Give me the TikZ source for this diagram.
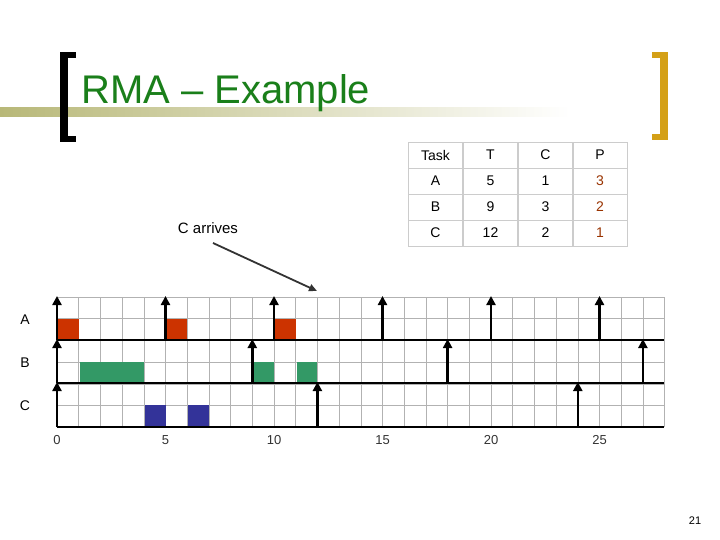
\documentclass[tikz,border=0pt]{standalone}
\usepackage{fontspec}
\setmainfont{Liberation Sans}
\usetikzlibrary{arrows.meta}
\definecolor{ttl}{HTML}{1A7F1A}
\definecolor{gold}{HTML}{D4A017}
\definecolor{olive}{HTML}{B8B878}
\definecolor{ared}{HTML}{CC3300}
\definecolor{bgreen}{HTML}{339966}
\definecolor{cblue}{HTML}{333399}
\definecolor{pbrown}{HTML}{993300}
\begin{document}
\begin{tikzpicture}[x=1pt,y=-1pt,
  rel/.style={line width=2.4pt,-{Triangle[length=9pt,width=9pt]}},
  lbl/.style={font=\fontsize{14}{14}\selectfont},
  cell/.style={font=\fontsize{14}{14}\selectfont,minimum width=54pt,minimum height=26pt,draw=gray!40,line width=0.4pt,inner sep=0pt}]
\useasboundingbox (0,0) rectangle (720,540);
\fill[white] (0,0) rectangle (720,540);
% title bar
\shade[left color=olive,right color=white] (0,108) rectangle (570,117);
\fill[black] (60,52) rectangle (68,142);
\fill[black] (60,52) rectangle (76,58);
\fill[black] (60,136) rectangle (76,142);
\fill[gold] (660,52) rectangle (668,140);
\fill[gold] (652,52) rectangle (668,58);
\fill[gold] (652,134) rectangle (668,140);
\node[anchor=base west,text=ttl,font=\fontsize{40}{40}\selectfont,inner sep=0] (title) at (81,104) {RMA – Example};
% table
\node[cell] (t0a) at (435.5,155) {Task};
\node[cell] (t0b) at (490.5,155) {T};
\node[cell] (t0c) at (545.5,155) {C};
\node[cell] (t0d) at (600,155) {P};
\foreach \r/\a/\b/\c/\d in {1/A/5/1/3,2/B/9/3/2,3/C/12/2/1}{
  \node[cell] (t\r a) at (435.5,{155+26*\r}) {\a};
  \node[cell] (t\r b) at (490.5,{155+26*\r}) {\b};
  \node[cell] (t\r c) at (545.5,{155+26*\r}) {\c};
  \node[cell,text=pbrown] (t\r d) at (600,{155+26*\r}) {\d};
}
% grid
\def\u{21.7}
\foreach \i in {0,...,28} \draw[gray!60,line width=0.6pt] ({57+\u*\i},297) -- ({57+\u*\i},427);
\foreach \j in {0,...,6} \draw[gray!60,line width=0.6pt] (57,{297+\u*\j}) -- (664,{297+\u*\j});
% blocks
\foreach \s in {0,5,10} \fill[ared] ({57+\u*\s+1},319) rectangle ({57+\u*(\s+1)},339.5);
\fill[bgreen] ({57+\u*1+1},362) rectangle ({57+\u*4},382.5);
\foreach \s in {9,11} \fill[bgreen] ({57+\u*\s+1},362) rectangle ({57+\u*(\s+1)},382.5);
\foreach \s in {4,6} \fill[cblue] ({57+\u*\s+1},405) rectangle ({57+\u*(\s+1)},426);
% baselines
\foreach \y in {340,383,427} \draw[line width=2.6pt] (57,\y) -- (664,\y);
% release arrows
\foreach \s in {0,5,10,15,20,25} {\coordinate (a\s) at ({57+\u*\s},340); \coordinate (ta\s) at ({57+\u*\s},296); \draw[rel] (a\s) -- (ta\s);}
\foreach \s in {0,9,18,27} {\coordinate (b\s) at ({57+\u*\s},383); \coordinate (tb\s) at ({57+\u*\s},339); \draw[rel] (b\s) -- (tb\s);}
\foreach \s in {0,12,24} {\coordinate (c\s) at ({57+\u*\s},427); \coordinate (tc\s) at ({57+\u*\s},382); \draw[rel] (c\s) -- (tc\s);}
% labels
\node[lbl] (la) at (25,320) {A};
\node[lbl] (lb) at (25,363) {B};
\node[lbl] (lc) at (25,406) {C};
\foreach \s in {0,5,10,15,20,25} \node[font=\fontsize{13}{13}\selectfont,text=black!80] (x\s) at ({57+\u*\s},440) {\s};
\node[font=\fontsize{15}{15}\selectfont] (carr) at (208,228) {C arrives};
\coordinate (cend) at (317,291);
\draw[line width=1.8pt,-{Triangle[length=8pt,width=7pt]},black!80] (213,243) -- (cend);
\node[font=\fontsize{11}{11}\selectfont] (pg) at (695,521) {21};
\end{tikzpicture}
\end{document}
